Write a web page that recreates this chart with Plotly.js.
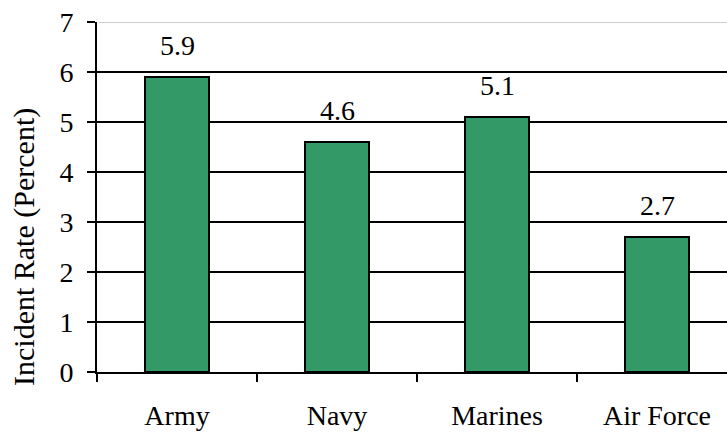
<!DOCTYPE html>
<html>
<head>
<meta charset="utf-8">
<script src="https://cdn.plot.ly/plotly-3.0.1.min.js"></script>
<style>html,body{margin:0;padding:0;background:#fff;}</style>
</head>
<body>
<div id="chart" style="width:727px;height:432px;"></div>
<script>
var categories = ["Army", "Navy", "Marines", "Air Force"];
var rates = [5.9, 4.6, 5.1, 2.7];
var valueLabels = ["5.9", "4.6", "5.1", "2.7"];
var yTickVals = [0, 1, 2, 3, 4, 5, 6, 7];

var FONT = "Liberation Serif, Times New Roman, Times, DejaVu Serif, serif";

var trace = {
  type: "bar",
  x: categories,
  y: rates,
  marker: {color: "#339966", line: {color: "#000000", width: 2}},
  hoverinfo: "none"
};

var annotations = categories.map(function (c, i) {
  return {
    x: c, y: rates[i], xref: "x", yref: "y",
    text: valueLabels[i], showarrow: false,
    yanchor: "bottom", yshift: 14,
    font: {family: FONT, size: 28, color: "#000"}
  };
});
annotations.push({
  xref: "paper", yref: "paper",
  x: (24 - 97) / 630, y: (372 - 247) / 350,
  text: "Incident Rate (Percent)", textangle: -90, showarrow: false,
  xanchor: "center", yanchor: "middle",
  font: {family: FONT, size: 30, color: "#000"}
});

var layout = {
  width: 727, height: 432,
  margin: {l: 97, r: 0, t: 22, b: 60},
  paper_bgcolor: "#ffffff", plot_bgcolor: "#ffffff",
  showlegend: false,
  bargap: 0.6,
  font: {family: FONT, size: 28, color: "#000"},
  xaxis: {
    type: "category",
    range: [-0.5, 3.4375],
    tickson: "boundaries",
    ticks: "outside", ticklen: 8, tickwidth: 2, tickcolor: "#000",
    showline: true, linecolor: "#000", linewidth: 2,
    showgrid: false,
    ticklabelstandoff: 17,
    tickfont: {family: FONT, size: 28, color: "#000"}
  },
  yaxis: {
    range: [0, 7],
    tickvals: yTickVals,
    ticks: "outside", ticklen: 8, tickwidth: 2, tickcolor: "#000",
    showline: true, linecolor: "#000", linewidth: 2,
    showgrid: true, gridcolor: "#000", gridwidth: 2,
    zeroline: false,
    ticklabelstandoff: 8,
    tickfont: {family: FONT, size: 28, color: "#000"}
  },
  shapes: [{
    type: "line", xref: "paper", yref: "y",
    x0: 0.003, x1: 1, y0: 7, y1: 7,
    line: {color: "#cccccc", width: 2}
  }],
  annotations: annotations
};

Plotly.newPlot("chart", [trace], layout, {displayModeBar: false, staticPlot: true});
</script>
</body>
</html>
